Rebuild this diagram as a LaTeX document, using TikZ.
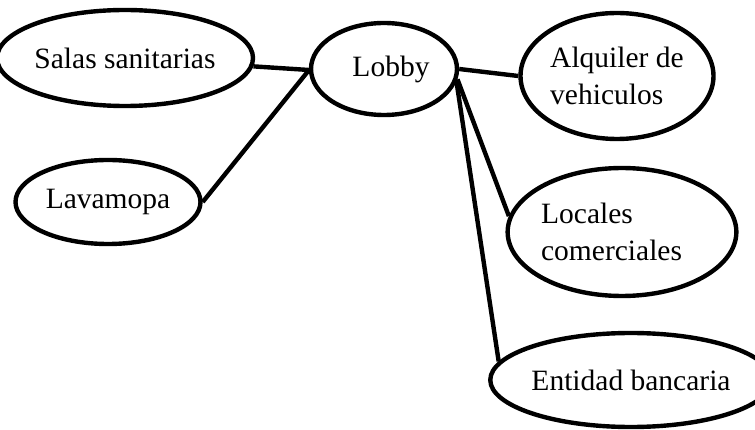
\documentclass[tikz,border=0pt]{standalone}
\usepackage{fontspec}
\setmainfont{Liberation Serif}
\usetikzlibrary{shapes.geometric}
\begin{document}
\begin{tikzpicture}[x=1pt,y=-1pt,
  bubble/.style={draw=black,line width=4.4pt,ellipse,inner sep=0pt,
    font=\fontsize{29.5}{37}\selectfont},
  link/.style={draw=black,line width=4.4pt}]
\useasboundingbox (0,0) rectangle (755,430);
\node[bubble,minimum width=234pt,minimum height=96pt] (s) at (125,58) {Salas sanitarias};
\node[bubble,minimum width=185pt,minimum height=84pt] (l) at (108,202) {Lavamopa};
\node[bubble,minimum width=146pt,minimum height=92pt] (b) at (384,69) {\hspace*{14pt}Lobby};
\node[bubble,minimum width=193pt,minimum height=126pt,align=left] (a) at (617,76) {Alquiler de\\vehiculos};
\node[bubble,minimum width=199pt,minimum height=128pt,align=left] (c) at (622,232) {Locales\hspace*{70pt}\\comerciales};
\node[bubble,minimum width=244pt,minimum height=94pt] (e) at (631,380) {Entidad bancaria};
\coordinate (j) at (309,70);
\draw[link] (s) -- (j);
\draw[link] (l.east) -- (j);
\draw[link] (b.east) -- (a.west);
\draw[link] (b.-8) -- (c.172);
\draw[link] (b.-10) -- (e.172);
\end{tikzpicture}
\end{document}
